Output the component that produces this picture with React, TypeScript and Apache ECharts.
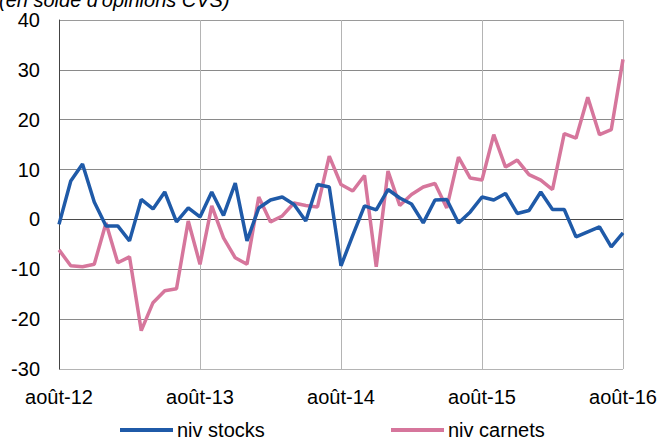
import React, { useEffect, useRef } from "react";
import * as echarts from "echarts";

const monthNames = ["janv.", "févr.", "mars", "avr.", "mai", "juin", "juil.", "août", "sept.", "oct.", "nov.", "déc."];
// Monthly categories from août-12 to août-16
const categories: string[] = [];
for (let y = 12; y <= 16; y++) {
  for (let m = 0; m < 12; m++) {
    if ((y === 12 && m < 7) || (y === 16 && m > 7)) continue;
    categories.push(`${monthNames[m]}-${y}`);
  }
}

const nivStocks = [
  -1, 7.7, 11.1, 3.5, -1.3, -1.3, -4.3, 4, 2.1, 5.5, -0.5, 2.3,
  0.5, 5.5, 0.8, 7.3, -4.3, 2.3, 3.9, 4.5, 3, -0.3, 7, 6.5,
  -9.3, -3.2, 2.7, 1.9, 6, 4.3, 3.1, -0.7, 3.9, 4, -0.7, 1.5,
  4.5, 3.9, 5.2, 1.2, 1.8, 5.5, 2, 2, -3.5, -2.5, -1.5, -5.5,
  -2.7,
];

const nivCarnets = [
  -6.1, -9.3, -9.5, -9, -0.7, -8.7, -7.5, -22.3, -16.7, -14.3, -13.9, -0.3,
  -9, 2.7, -3.7, -7.7, -9, 4.5, -0.5, 0.7, 3.3, 2.8, 2.5, 12.7,
  7, 5.7, 8.8, -9.5, 9.7, 2.8, 5, 6.5, 7.2, 2.3, 12.5, 8.3,
  7.9, 17, 10.5, 11.9, 9, 7.9, 6, 17.2, 16.3, 24.5, 17, 18,
  32.1,
];

const yTicks = [-30, -20, -10, 0, 10, 20, 30, 40];
const seriesNames = ["niv stocks", "niv carnets"];
const subtitle = "(en solde d'opinions CVS)";

const FONT = "'Liberation Sans', Arial, sans-serif";
const FS = 20;
const BLUE = "#1f5aa8";
const PINK = "#d6769c";

export default function App() {
  const ref = useRef<HTMLDivElement>(null);
  useEffect(() => {
    if (!ref.current) return;
    const chart = echarts.init(ref.current, undefined, { renderer: "svg" });
    const legendBase = {
      top: 420,
      padding: 0,
      icon: "rect",
      itemWidth: 53,
      itemHeight: 4,
      itemGap: 4,
      textStyle: { fontSize: FS, color: "#000", fontFamily: FONT, padding: [0, 0, 0, -1] },
    };
    chart.setOption({
      animation: false,
      backgroundColor: "#ffffff",
      textStyle: { fontFamily: FONT },
      grid: { left: 59, right: 37, top: 20, bottom: 69, containLabel: false },
      graphic: [
        {
          type: "text",
          left: -1,
          top: -10,
          style: {
            text: subtitle,
            font: `italic ${FS}px ${FONT}`,
            fill: "#000",
          },
        },
      ],
      legend: [
        { ...legendBase, data: [seriesNames[0]], left: 120 },
        { ...legendBase, data: [seriesNames[1]], left: 391 },
      ],
      xAxis: {
        type: "category",
        data: categories,
        boundaryGap: false,
        axisLine: { show: false },
        axisTick: { show: false },
        axisLabel: {
          interval: 11,
          fontSize: FS,
          color: "#000",
          fontFamily: FONT,
          margin: 18,
          showMaxLabel: true,
        },
        splitLine: { show: true, interval: 11, lineStyle: { color: "#b4b4b4", width: 1 } },
      },
      yAxis: {
        type: "value",
        min: yTicks[0],
        max: yTicks[yTicks.length - 1],
        interval: 10,
        axisLine: { show: true, onZero: false, lineStyle: { color: "#444", width: 1 } },
        axisTick: { show: false },
        axisLabel: { fontSize: FS, color: "#000", fontFamily: FONT, margin: 19 },
        splitLine: {
          show: true,
          lineStyle: {
            color: ["#b4b4b4", "#8a8a8a", "#8a8a8a", "#4a4a4a", "#8a8a8a", "#8a8a8a", "#8a8a8a", "#9a9a9a"],
            width: 1,
          },
        },
      },
      series: [
        {
          name: seriesNames[0],
          type: "line",
          data: nivStocks,
          showSymbol: false,
          symbol: "none",
          lineStyle: { color: BLUE, width: 3.5 },
          itemStyle: { color: BLUE },
          z: 3,
        },
        {
          name: seriesNames[1],
          type: "line",
          data: nivCarnets,
          showSymbol: false,
          symbol: "none",
          lineStyle: { color: PINK, width: 3.5 },
          itemStyle: { color: PINK },
          z: 2,
        },
      ],
    });
    return () => chart.dispose();
  }, []);
  return (
    <div
      ref={ref}
      style={{ position: "absolute", left: 0, top: 0, width: 660, height: 438 }}
    />
  );
}
